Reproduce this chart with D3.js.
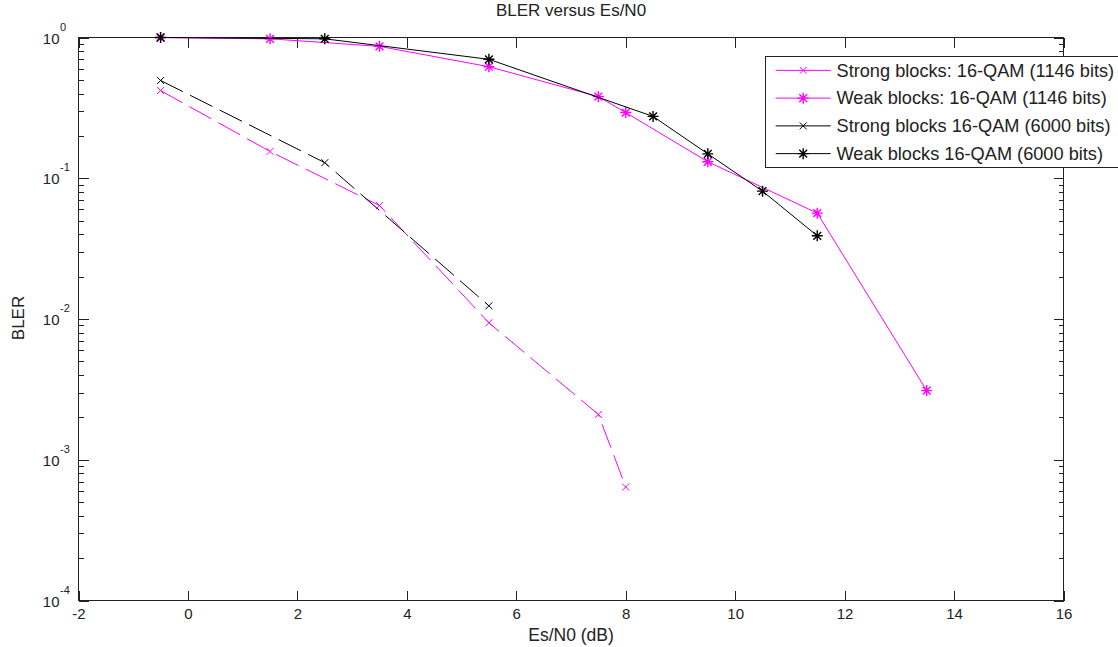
<!DOCTYPE html>
<html>
<head>
<meta charset="utf-8">
<script src="https://cdn.jsdelivr.net/npm/d3@7"></script>
<style>
  html, body { margin: 0; padding: 0; background: #fff; }
  svg { display: block; }
  text { font-family: "Liberation Sans", Arial, sans-serif; fill: #222; }
</style>
</head>
<body>
<svg id="chart" width="1118" height="647"></svg>
<script>
// ---- data ----
const xTickValues = [-2, 0, 2, 4, 6, 8, 10, 12, 14, 16];
const yTickExponents = [0, -1, -2, -3, -4];

const strong1146X = [-0.5, 1.5, 3.5, 5.5, 7.5, 8];
const strong1146Y = [0.42, 0.155, 0.064, 0.0094, 0.0021, 0.00064];

const weak1146X = [-0.5, 1.5, 3.5, 5.5, 7.5, 8, 9.5, 11.5, 13.5];
const weak1146Y = [1.0, 0.979, 0.865, 0.62, 0.38, 0.293, 0.131, 0.0565, 0.0031];

const strong6000X = [-0.5, 2.5, 5.5];
const strong6000Y = [0.495, 0.129, 0.0124];

const weak6000X = [-0.5, 2.5, 5.5, 8.5, 9.5, 10.5, 11.5];
const weak6000Y = [1.0, 0.979, 0.70, 0.275, 0.149, 0.081, 0.039];

const seriesNames = [
  "Strong blocks: 16-QAM (1146 bits)",
  "Weak blocks: 16-QAM (1146 bits)",
  "Strong blocks 16-QAM (6000 bits)",
  "Weak blocks 16-QAM (6000 bits)"
];

const titleText = "BLER versus Es/N0";
const xLabelText = "Es/N0 (dB)";
const yLabelText = "BLER";

// ---- layout ----
const L = 78.5, R = 1063.5, T = 37.5, B = 600.5;
const axisColor = "#222";
const magenta = "#ff00ff";
const black = "#000";

const svg = d3.select("#chart");
const x = d3.scaleLinear().domain([-2, 16]).range([L, R]);
const y = d3.scaleLog().domain([1e-4, 1]).range([B, T]);

const series = [
  { name: seriesNames[0], xs: strong1146X, ys: strong1146Y, color: magenta, dash: "25,8", marker: "x" },
  { name: seriesNames[1], xs: weak1146X, ys: weak1146Y, color: magenta, dash: null, marker: "star" },
  { name: seriesNames[2], xs: strong6000X, ys: strong6000Y, color: black, dash: "25,8", marker: "x" },
  { name: seriesNames[3], xs: weak6000X, ys: weak6000Y, color: black, dash: null, marker: "star" }
];

svg.append("rect").attr("x", 0).attr("y", 0).attr("width", 1118).attr("height", 647).attr("fill", "#fff");

// ---- axes with inward ticks ----
const hyphenFmt = d => String(d);
const xAxisBottom = d3.axisBottom(x).tickValues(xTickValues).tickSize(-10).tickPadding(7.5).tickFormat(hyphenFmt);
const xAxisTop = d3.axisTop(x).tickValues(xTickValues).tickSize(-10).tickFormat("");
const minorVals = [];
yTickExponents.forEach(e => { if (e < 0) for (let k = 2; k <= 9; k++) minorVals.push(k * Math.pow(10, e)); });
const majorVals = yTickExponents.map(e => Math.pow(10, e));

const gxb = svg.append("g").attr("transform", `translate(0,${B})`).call(xAxisBottom);
const gxt = svg.append("g").attr("transform", `translate(0,${T})`).call(xAxisTop);
const gyl = svg.append("g").attr("transform", `translate(${L},0)`).call(d3.axisLeft(y).tickValues(majorVals).tickSize(-10).tickFormat(""));
const gylm = svg.append("g").attr("transform", `translate(${L},0)`).call(d3.axisLeft(y).tickValues(minorVals).tickSize(-5).tickFormat(""));
const gyr = svg.append("g").attr("transform", `translate(${R},0)`).call(d3.axisRight(y).tickValues(majorVals).tickSize(-10).tickFormat(""));
const gyrm = svg.append("g").attr("transform", `translate(${R},0)`).call(d3.axisRight(y).tickValues(minorVals).tickSize(-5).tickFormat(""));

[gxb, gxt, gyl, gylm, gyr, gyrm].forEach(g => {
  g.selectAll(".domain").remove();
  g.selectAll(".tick line").attr("stroke", axisColor).attr("stroke-width", 1)
    .attr("shape-rendering", "crispEdges");
});
gxb.selectAll(".tick text").attr("font-size", 15).attr("fill", "#222")
  .attr("font-family", "Liberation Sans, Arial, sans-serif");

// box
svg.append("rect").attr("x", L).attr("y", T).attr("width", R - L).attr("height", B - T)
  .attr("fill", "none").attr("stroke", axisColor).attr("stroke-width", 1)
  .attr("shape-rendering", "crispEdges");

// y tick labels 10^e
const ylab = svg.append("g");
yTickExponents.forEach(e => {
  const yy = y(Math.pow(10, e));
  ylab.append("text").attr("x", 59.5).attr("y", yy + 6).attr("text-anchor", "end")
    .attr("font-size", 15).text("10");
  ylab.append("text").attr("x", 60).attr("y", yy - 7).attr("text-anchor", "start")
    .attr("font-size", 11).text(String(e));
});

// ---- data lines ----
const line = d3.line().x(d => x(d[0])).y(d => y(d[1]));

function drawMarker(g, cx, cy, type, color) {
  if (type === "x") {
    const h = 3.5;
    g.append("path").attr("d", `M${cx - h},${cy - h}L${cx + h},${cy + h}M${cx - h},${cy + h}L${cx + h},${cy - h}`)
      .attr("stroke", color).attr("stroke-width", 1).attr("fill", "none");
  } else {
    const h = 5.5, d = 3.9;
    g.append("path").attr("d",
      `M${cx - h},${cy}L${cx + h},${cy}M${cx},${cy - h}L${cx},${cy + h}` +
      `M${cx - d},${cy - d}L${cx + d},${cy + d}M${cx - d},${cy + d}L${cx + d},${cy - d}`)
      .attr("stroke", color).attr("stroke-width", 1.4).attr("fill", "none");
  }
}

series.forEach(s => {
  const pts = s.xs.map((v, i) => [v, s.ys[i]]);
  const g = svg.append("g");
  g.append("path").datum(pts).attr("d", line).attr("fill", "none")
    .attr("stroke", s.color).attr("stroke-width", 1)
    .attr("stroke-dasharray", s.dash ? s.dash : null);
  pts.forEach(p => drawMarker(g, x(p[0]), y(p[1]), s.marker, s.color));
});

// ---- titles ----
svg.append("text").attr("x", (L + R) / 2).attr("y", 16).attr("text-anchor", "middle")
  .attr("font-size", 17).text(titleText);
svg.append("text").attr("x", (L + R) / 2).attr("y", 641).attr("text-anchor", "middle")
  .attr("font-size", 17.5).text(xLabelText);
svg.append("text").attr("transform", "translate(24,318) rotate(-90)").attr("text-anchor", "middle")
  .attr("font-size", 17).text(yLabelText);

// ---- legend ----
const lg = svg.append("g");
const lgLeft = 765.5, lgTop = 56.5, lgBottom = 167.5;
lg.append("rect").attr("x", lgLeft).attr("y", lgTop).attr("width", 1130 - lgLeft).attr("height", lgBottom - lgTop)
  .attr("fill", "#fff").attr("stroke", axisColor).attr("stroke-width", 1)
  .attr("shape-rendering", "crispEdges");
const rowH = (lgBottom - lgTop) / 4;
series.forEach((s, i) => {
  const cy = lgTop + rowH * (i + 0.5);
  lg.append("line").attr("x1", 775.7).attr("x2", 830.7).attr("y1", cy).attr("y2", cy)
    .attr("stroke", s.color).attr("stroke-width", 1);
  drawMarker(lg, 803.2, cy, s.marker, s.color);
  lg.append("text").attr("x", 836.5).attr("y", cy + 6.3).attr("font-size", 18.2).text(s.name);
});
</script>
</body>
</html>
